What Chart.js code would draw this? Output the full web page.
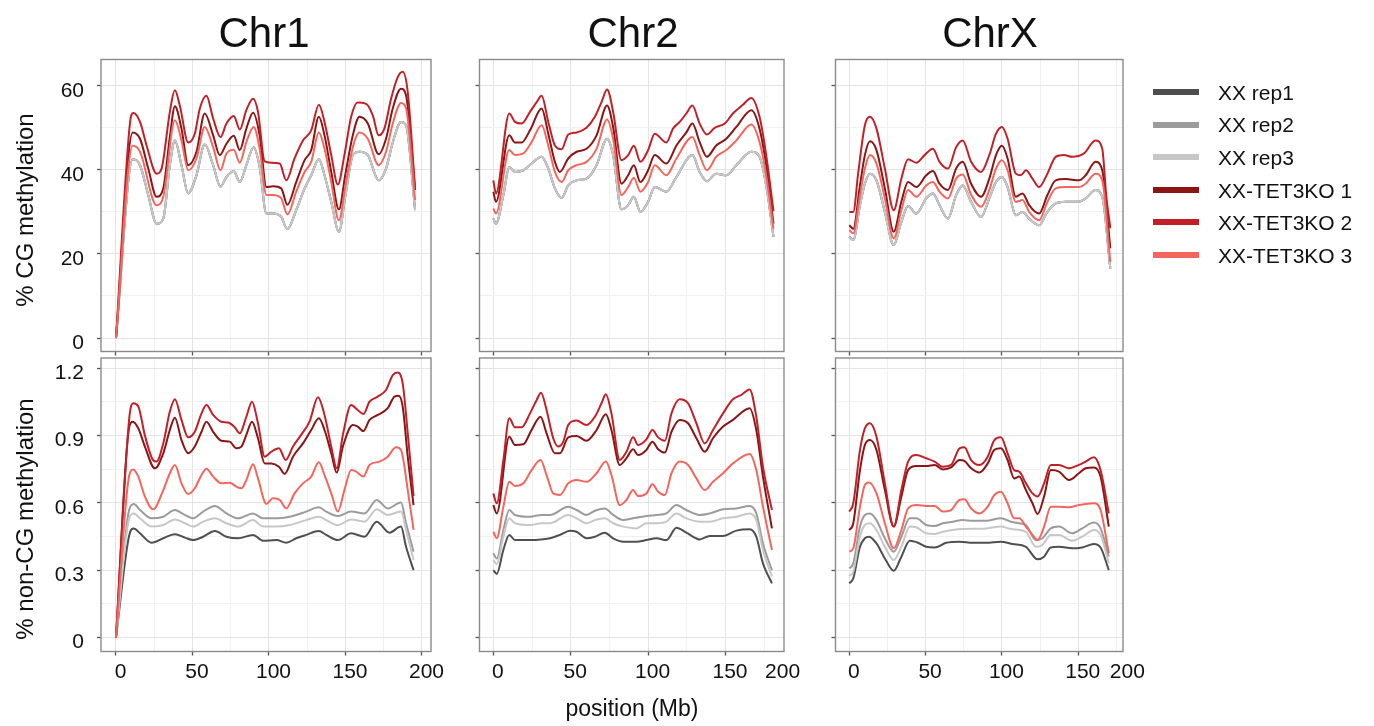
<!DOCTYPE html>
<html><head><meta charset="utf-8">
<script src="https://cdn.jsdelivr.net/npm/chart.js@4.4.1/dist/chart.umd.min.js"></script>
<style>
html,body{margin:0;padding:0;background:#fff;width:1374px;height:726px;overflow:hidden;font-family:"Liberation Sans",Arial,sans-serif;}
canvas{position:absolute;left:0;top:0;}
.t{position:absolute;color:#111;white-space:nowrap;line-height:1;}
.sw{position:absolute;left:1153px;width:46px;height:6px;}
</style></head><body>
<canvas id="c0" width="1374" height="726"></canvas>
<canvas id="c1" width="1374" height="726"></canvas>
<canvas id="c2" width="1374" height="726"></canvas>
<canvas id="c3" width="1374" height="726"></canvas>
<canvas id="c4" width="1374" height="726"></canvas>
<canvas id="c5" width="1374" height="726"></canvas>
<div id="txt"></div>
<script>
// ---------------- data ----------------
const chromosomes = ['Chr1','Chr2','ChrX'];
const seriesNames = ['XX rep1','XX rep2','XX rep3','XX-TET3KO 1','XX-TET3KO 2','XX-TET3KO 3'];
const seriesColors = ['#4f4f4f','#9b9b9b','#c7c7c7','#8b1414','#c22028','#f4665d'];

const xMajorTicks = [0,50,100,150,200];
const xMinorTicks = [25,75,125,175];
const cgYTicks = [0,20,40,60];
const cgYLabels = ['0','20','40','60'];
const cgYMinor = [10,30,50];
const ncgYTicks = [0,0.3,0.6,0.9,1.2];
const ncgYLabels = ['0','0.3','0.6','0.9','1.2'];
const ncgYMinor = [0.15,0.45,0.75,1.05];

// % CG methylation (XX reps overlap in the top row)
const cgChr1XX = [[0,0],[10.9,42.5],[15.7,41.1],[21.1,34],[26.5,27.2],[30.9,28.4],[35.2,41.1],[38.5,47],[42.8,41.1],[47.2,34.4],[52.6,38.7],[58,46],[63.5,41.1],[68.3,36],[72.2,38.3],[77,39.7],[80.9,37.1],[85.2,41.1],[90,45.4],[93.9,40.7],[98.3,29.6],[102.6,29.6],[108,28.8],[112,25.9],[117.8,30.4],[123.3,35.6],[127.6,38.7],[132.6,42.5],[136.3,38.7],[140.7,32.4],[145.7,25.3],[150,34],[154.8,43.5],[159.1,44.3],[164.6,43.5],[171.7,37.5],[176.5,40.3],[180.9,46.5],[186.3,51.4],[189.6,50.6],[195.5,30.4]];
const cgChr1KO1 = [[0,0],[10.9,48.9],[15.7,47.4],[21.1,40.3],[26.5,33.6],[30.9,35.6],[35.2,47.8],[38.5,55.1],[42.8,49.8],[47.2,41.1],[52.6,44.3],[58,53.4],[63.5,48.2],[67.8,43.5],[72.2,46.2],[77,48.1],[80.9,44.7],[85.2,49.8],[89.6,53.6],[93.9,48.2],[98.3,35.9],[102.6,36.1],[108,35.6],[112,31.7],[117.8,37.1],[123.3,42.3],[127.6,44.7],[132.6,52.6],[136.3,48.2],[140.7,39.5],[145.7,30.6],[150,39.1],[154.8,48.2],[159.1,52.6],[164.6,51],[171.7,43.7],[176.5,47.4],[180.9,54.6],[186.3,59.3],[189.6,57.7],[195.5,35.2]];
const cgChr1KO2 = [[0,0],[9.1,51],[11.3,53.5],[15.7,51.4],[20,45.8],[26.5,39.1],[29.8,40.3],[35.2,53.8],[38.5,58.9],[41.7,55.3],[47.2,46.5],[51.5,48.6],[54.8,54.6],[59.1,57.6],[63.5,52.2],[68.3,47.8],[72.2,51],[77,52.8],[80.9,49.6],[85.2,54.2],[89.6,56.9],[92.8,53.8],[97.2,42],[101.5,41.7],[107,41.5],[111.3,37.5],[116.7,42.7],[122.2,47],[127.6,49.4],[132.6,55.5],[136.3,51.4],[140.7,43.5],[145,36.5],[149.3,43.5],[153.7,52.6],[158,56],[163.5,55.7],[167.8,53],[171.7,48.2],[175.4,49.8],[179.8,56.9],[184.1,62],[187.4,63.3],[190.7,58.5],[195.5,35.5]];
const cgChr1KO3 = [[0,0],[10.9,45.7],[15.7,44.3],[26.5,31.6],[30.9,33.6],[38.5,51.8],[42.8,47],[47.2,39.9],[52.6,42.7],[58,50.2],[63.5,45.4],[68.3,39.9],[72.2,43.9],[77,44.8],[80.9,41.7],[85.2,46.6],[90,50.2],[93.9,45],[98.3,34],[102.6,34],[108,33.2],[112,29.4],[117.8,34.8],[123.3,39.5],[127.6,41.9],[132.6,48.9],[136.3,45],[140.7,37.1],[145.7,28],[150,36.3],[154.8,45.4],[159.1,48.9],[164.6,47.4],[171.7,41.1],[176.5,44.3],[180.9,51],[186.3,55.9],[189.6,54.6],[195.5,32.8]];

const cgChr2XX = [[0,28.4],[1.7,27.2],[6.5,34],[10.3,40.7],[14,39.5],[19.4,39.9],[24.7,41.5],[31.2,43.1],[35.5,40.3],[39.8,35.6],[44.1,33.3],[48.4,36.3],[53.8,37.5],[60.2,37.9],[66.7,41.1],[73.5,47.4],[77.4,43.5],[82.8,30.6],[87.1,31.6],[90.8,33.6],[95,30],[100,32.4],[104.3,35.9],[111.8,34.8],[118.3,38.3],[128.6,43.5],[133.3,39.5],[138,37.3],[144,39.1],[150.5,38.7],[157,41.1],[166.7,44.3],[172,43.1],[176.3,36.3],[181,24.1]];
const cgChr2KO1 = [[0,34.8],[1.7,32.4],[10.3,48.2],[14,46.5],[18.3,46.5],[23.7,49.4],[31.2,54.6],[35.5,48.6],[39.8,41.9],[43,39.5],[48.4,42.7],[53.8,44.3],[60.2,45],[66.7,48.2],[73.5,55.3],[77.4,50.2],[82.8,36.7],[87.1,38.7],[90.8,41.1],[95,37.1],[100,39.9],[104.3,43.5],[111.8,41.5],[118.3,45.8],[124.7,48.9],[128.6,51],[133.3,46.6],[138,43.1],[144,45.8],[150.5,47.4],[157,50.2],[166.7,54.2],[172,49.8],[176.3,41.1],[181,27.2]];
const cgChr2KO2 = [[0,37.5],[1.7,34.4],[10.3,53.4],[14,51.4],[18.3,51],[23.7,53.8],[28,56.1],[31.2,57.6],[35.5,51.4],[39.8,45.8],[44.1,44.9],[48.4,48.4],[53.8,48.9],[60.2,50],[65.6,52.6],[69.9,56.1],[73.5,59.1],[77.4,53.8],[82.8,42.3],[87.1,43.5],[90.8,45.7],[95,41.9],[100,44.7],[104.3,48.6],[111.8,46.5],[116.1,49.8],[120.4,51.4],[124.7,53.4],[128.6,55.3],[133.3,51],[138,48.4],[143,50],[149.5,51],[154.8,53.4],[161.3,55.5],[166.7,57.1],[172,52.6],[176.3,43.5],[181,30.2]];
const cgChr2KO3 = [[0,30.8],[1.7,29.6],[10.3,44.7],[14,43.5],[19.4,43.9],[24.7,46.6],[31.2,50.6],[35.5,45.8],[39.8,39.5],[44.1,37.1],[48.4,39.9],[53.8,41.1],[60.2,41.9],[66.7,45],[73.5,52],[77.4,47.4],[82.8,34],[87.1,35.9],[90.8,38.1],[95,34.8],[100,37.1],[104.3,41.1],[111.8,38.7],[118.3,42.7],[128.6,47.8],[133.3,43.5],[138,39.9],[144,43.1],[150.5,44.7],[157,47],[166.7,50.8],[172,46.6],[176.3,38.7],[181,26]];

const cgChrXXX = [[0,24.1],[2.6,23.3],[7,31.6],[10.2,36.7],[13.5,39.1],[17.8,37.5],[23.3,30],[29.1,22.1],[34.1,27.6],[38.5,31.4],[43.9,29.6],[50.4,33.2],[54.8,34.4],[59.1,31.6],[64.6,28.4],[70,34],[74.3,36.3],[79.8,32.4],[86.3,28.8],[91.7,33.2],[96.1,37.1],[100,38.3],[103.7,35.9],[109.1,29.2],[113.5,30],[117.8,28.4],[124.3,26.8],[129.8,30],[135.2,32],[141.7,32.4],[150.4,32.4],[154.8,33.2],[161.3,35.2],[165.7,33.6],[171,16.5]];
const cgChrXKO1 = [[0,26.8],[2.6,26],[7,36.3],[10.2,43.5],[13.5,46.8],[17.8,44.7],[23.3,35.6],[29.1,25.3],[34.1,32.4],[38.5,37.1],[43.9,35.9],[50.4,38.7],[54.8,39.7],[59.1,36.7],[64.6,35.2],[70,40.3],[74.3,41.9],[79.8,36.7],[86.3,33.6],[91.7,37.9],[96.1,43.5],[100,45.7],[103.7,42.7],[109.1,33.6],[113.5,34.4],[117.8,31.6],[124.3,29.6],[129.8,34],[135.2,37.5],[141.7,37.8],[150.4,37.5],[154.8,38.7],[161.3,41.9],[165.7,39.9],[171,21.3]];
const cgChrXKO2 = [[0,30],[2.6,30],[5.9,39.5],[10.2,50.6],[13.5,52.6],[17.8,49.8],[23.3,40.3],[29.1,30.4],[34.1,37.9],[38.5,42.5],[43.9,41.7],[49.3,43.5],[54.8,45],[59.1,41.9],[64.6,40.3],[70,45.4],[74.3,47],[79.8,41.9],[86.3,39.5],[91.7,43.5],[96.1,48.6],[100,50.2],[103.7,47.4],[109.1,39.1],[112.4,38.7],[115.7,39.9],[120,37.9],[124.3,35.9],[129.8,39.1],[135.2,43.1],[140.7,43.5],[146,43.1],[153.7,43.9],[161.3,47],[165.7,45],[168.3,34],[171,26.1]];
const cgChrXKO3 = [[0,25.7],[2.6,24.9],[7,34],[10.2,40.3],[13.5,43.5],[17.8,41.5],[23.3,33.2],[29.1,23.7],[34.1,30.4],[38.5,35.2],[43.9,33.6],[50.4,36.3],[54.8,37.1],[59.1,34.8],[64.6,33.2],[70,37.9],[74.3,38.9],[79.8,34.1],[86.3,31.2],[91.7,35.2],[96.1,40.3],[100,42.3],[103.7,39.9],[109.1,32.4],[113.5,32.8],[117.8,30],[124.3,28],[129.8,32.4],[135.2,35.6],[141.7,35.9],[150.4,35.9],[154.8,36.7],[161.3,39.1],[165.7,37.5],[171,18.1]];

// % non-CG methylation
const ncgChr1Rep1 = [[0,0],[8.7,0.457],[11.7,0.486],[15.7,0.464],[23.3,0.422],[30.9,0.442],[38.5,0.46],[45,0.445],[50.4,0.434],[57,0.449],[64.6,0.474],[72.2,0.449],[79.8,0.442],[89.6,0.457],[96.1,0.431],[104.8,0.434],[111.3,0.422],[117.8,0.442],[124.3,0.457],[132.6,0.474],[137.4,0.457],[145,0.434],[153.7,0.464],[162.4,0.449],[170.4,0.516],[178.7,0.467],[186.3,0.494],[189.6,0.404],[194.5,0.3]];
const ncgChr1Rep2 = [[0,0],[8.7,0.571],[11.7,0.595],[15.7,0.568],[23.3,0.531],[30.9,0.538],[38.5,0.568],[45,0.546],[50.4,0.531],[57,0.561],[64.6,0.586],[72.2,0.553],[79.8,0.531],[89.6,0.553],[96.1,0.531],[104.8,0.531],[113.5,0.538],[124.3,0.561],[132.6,0.58],[137.4,0.561],[145,0.541],[153.7,0.561],[162.4,0.553],[170.4,0.613],[177.6,0.575],[186.3,0.601],[189.6,0.509],[194.5,0.382]];
const ncgChr1Rep3 = [[0,0],[8.7,0.531],[11.7,0.553],[15.7,0.531],[23.3,0.494],[30.9,0.501],[38.5,0.526],[45,0.509],[50.4,0.494],[57,0.516],[64.6,0.531],[72.2,0.509],[79.8,0.494],[89.6,0.523],[96.1,0.494],[104.8,0.494],[113.5,0.501],[124.3,0.523],[132.6,0.538],[137.4,0.523],[145,0.501],[153.7,0.526],[162.4,0.516],[170.4,0.571],[177.6,0.546],[186.3,0.561],[189.6,0.479],[194.5,0.345]];
const ncgChr1KO1 = [[0,0],[8.7,0.94],[10.9,0.962],[14.6,0.932],[18.9,0.851],[25.4,0.754],[30.9,0.821],[35.2,0.925],[38.5,0.98],[42.8,0.88],[47.2,0.821],[51.5,0.851],[55.9,0.917],[59.1,0.962],[63.5,0.917],[68.9,0.877],[74.3,0.873],[78.7,0.843],[82,0.851],[85.2,0.903],[88.9,0.962],[92.8,0.888],[97.2,0.776],[101.5,0.776],[106.5,0.761],[110.2,0.729],[115.7,0.806],[122.2,0.865],[127.6,0.925],[132.6,0.977],[136.3,0.925],[140.7,0.821],[144.3,0.735],[148.3,0.851],[154.8,0.947],[158,0.94],[161.7,0.92],[165.7,0.97],[171.1,0.992],[177.6,1.022],[182,1.074],[184.8,1.078],[187.4,1.029],[190.7,0.806],[194.5,0.59]];
const ncgChr1KO2 = [[0,0],[8.7,0.98],[11.3,1.044],[14.6,1.03],[18.9,0.9],[24.3,0.79],[26.5,0.784],[30.9,0.865],[35.2,1.007],[38.5,1.062],[42.8,0.97],[47.2,0.892],[51.5,0.917],[55.9,0.999],[59.1,1.036],[63.5,0.992],[68.9,0.962],[73.3,0.958],[77.6,0.937],[80.9,0.91],[85.2,0.984],[88.9,1.051],[92.8,0.955],[97.2,0.806],[101.5,0.828],[106.5,0.843],[110.9,0.791],[115.7,0.851],[121,0.903],[126.5,0.962],[132,1.071],[136.3,0.992],[140.7,0.851],[144.3,0.754],[148.3,0.903],[153.7,1.036],[158,1.014],[161.7,0.996],[165.7,1.051],[171.1,1.074],[176.5,1.103],[180.9,1.17],[184.1,1.181],[187.4,1.133],[190.7,0.91],[194.5,0.63]];
const ncgChr1KO3 = [[0,0],[8.7,0.724],[11.3,0.749],[14.6,0.717],[18.9,0.628],[24.3,0.571],[30.9,0.657],[35.2,0.732],[38.5,0.769],[42.8,0.687],[47.2,0.639],[51.5,0.665],[55.9,0.724],[59.1,0.752],[63.5,0.717],[68.9,0.687],[74.3,0.69],[78.7,0.672],[82,0.665],[85.2,0.702],[89.6,0.772],[92.8,0.709],[98.3,0.595],[102.6,0.62],[107,0.613],[111.3,0.575],[116.7,0.642],[122.2,0.687],[127.6,0.717],[132.6,0.781],[136.3,0.724],[140.7,0.642],[145,0.561],[149.3,0.657],[153.7,0.746],[157,0.739],[161.7,0.717],[165.7,0.769],[172.2,0.784],[177.6,0.806],[183,0.848],[186.3,0.836],[190.7,0.657],[194.5,0.479]];

const ncgChr2Rep1 = [[0,0.3],[2.2,0.283],[6.5,0.39],[10.3,0.457],[14,0.434],[23.7,0.434],[36.6,0.442],[43,0.457],[49.5,0.476],[53.8,0.471],[60.2,0.442],[65.6,0.449],[72,0.467],[77.4,0.442],[83.9,0.427],[92.5,0.427],[98.9,0.434],[105.4,0.442],[111.8,0.434],[118.3,0.489],[124.7,0.467],[133.3,0.437],[139.8,0.452],[148.4,0.452],[157,0.476],[165.6,0.482],[169.9,0.449],[174.2,0.33],[180,0.241]];
const ncgChr2Rep2 = [[0,0.375],[2.2,0.352],[6.5,0.479],[10.3,0.568],[14,0.546],[23.7,0.538],[31.2,0.546],[36.6,0.546],[48.4,0.583],[53.8,0.568],[60.2,0.546],[65.6,0.565],[72,0.575],[77.4,0.546],[83.9,0.523],[90.3,0.531],[98.9,0.541],[105.4,0.546],[111.8,0.553],[118.3,0.59],[124.7,0.568],[133.3,0.546],[139.8,0.553],[148.4,0.571],[157,0.575],[165.6,0.586],[169.9,0.553],[174.2,0.419],[180,0.3]];
const ncgChr2Rep3 = [[0,0.345],[2.2,0.327],[6.5,0.449],[10.3,0.531],[14,0.509],[23.7,0.501],[31.2,0.509],[36.6,0.509],[48.4,0.546],[53.8,0.531],[60.2,0.509],[65.6,0.523],[72,0.531],[77.4,0.509],[83.9,0.494],[92.5,0.486],[98.9,0.509],[105.4,0.509],[111.8,0.516],[118.3,0.553],[124.7,0.531],[133.3,0.516],[139.8,0.516],[148.4,0.531],[157,0.538],[165.6,0.553],[169.9,0.523],[174.2,0.39],[180,0.271]];
const ncgChr2KO1 = [[0,0.59],[2.2,0.553],[10.3,0.895],[14,0.858],[19.4,0.861],[24.7,0.925],[30.5,0.984],[34.4,0.91],[39.8,0.821],[43,0.821],[48.4,0.892],[53.8,0.898],[60.2,0.877],[66.7,0.925],[72.7,0.995],[76.3,0.925],[81.7,0.769],[86,0.799],[90.3,0.839],[93.5,0.813],[98.9,0.836],[102.8,0.873],[106.5,0.839],[110.8,0.824],[115.1,0.917],[120.4,0.97],[125.8,0.955],[131.2,0.888],[136.6,0.828],[141.9,0.888],[148.4,0.94],[154.8,0.97],[165.6,1.022],[169.9,0.925],[174.2,0.717],[180,0.486]];
const ncgChr2KO2 = [[0,0.642],[2.2,0.598],[6.5,0.791],[10.3,0.977],[14,0.937],[18.3,0.937],[23.7,0.999],[28,1.059],[30.8,1.091],[34.4,1.014],[38.7,0.888],[41.9,0.851],[45.2,0.873],[48.4,0.947],[53.8,0.967],[60.2,0.947],[65.6,0.984],[69.9,1.044],[72.7,1.084],[76.3,0.999],[81.7,0.791],[86,0.828],[90.3,0.892],[93.5,0.858],[98.9,0.883],[102.8,0.925],[106.5,0.892],[110.8,0.877],[115.1,0.999],[120.4,1.062],[125.8,1.044],[131.2,0.955],[136.6,0.865],[141.9,0.925],[148.4,0.999],[154.8,1.062],[160.2,1.081],[165.6,1.106],[169.9,0.984],[174.2,0.761],[180,0.568]];
const ncgChr2KO3 = [[0,0.471],[2.2,0.442],[6.5,0.583],[10.3,0.694],[14,0.675],[19.4,0.687],[24.7,0.746],[30.5,0.791],[34.4,0.724],[38.7,0.642],[43,0.635],[48.4,0.687],[53.8,0.702],[60.2,0.694],[66.7,0.732],[72.7,0.784],[76.3,0.724],[81.7,0.59],[86,0.613],[90.3,0.657],[93.5,0.63],[98.9,0.642],[102.8,0.683],[106.5,0.65],[110.8,0.635],[115.1,0.732],[120.4,0.784],[125.8,0.769],[131.2,0.709],[136.6,0.657],[141.9,0.694],[148.4,0.732],[154.8,0.776],[165.6,0.818],[169.9,0.746],[174.2,0.583],[180,0.39]];

const ncgChrXRep1 = [[0,0.241],[2.6,0.263],[7,0.404],[10.2,0.442],[13,0.449],[17.8,0.419],[23.3,0.352],[29.1,0.297],[34.1,0.36],[39.6,0.431],[45,0.422],[50.4,0.404],[55.9,0.401],[63.5,0.422],[72.2,0.427],[80.9,0.422],[89.6,0.422],[99.3,0.427],[107,0.416],[115.7,0.404],[123.3,0.348],[127.6,0.36],[132,0.401],[137.4,0.404],[146,0.397],[152.6,0.401],[160.2,0.416],[164.6,0.401],[170,0.3]];
const ncgChrXRep2 = [[0,0.308],[2.6,0.33],[7,0.494],[10.2,0.546],[13.5,0.553],[17.8,0.523],[23.3,0.442],[29.1,0.382],[34.1,0.449],[39.6,0.531],[43.9,0.531],[50.4,0.501],[55.9,0.497],[61.3,0.509],[67.8,0.516],[74.3,0.523],[80.9,0.52],[89.6,0.52],[99.3,0.531],[105.9,0.516],[111.3,0.509],[115.7,0.501],[122.2,0.434],[126.5,0.442],[132,0.486],[137.4,0.494],[146,0.464],[152.6,0.486],[160.2,0.512],[164.6,0.486],[170,0.36]];
const ncgChrXRep3 = [[0,0.274],[2.6,0.293],[7,0.449],[10.2,0.501],[13.5,0.509],[17.8,0.479],[23.3,0.404],[29.1,0.345],[34.1,0.404],[39.6,0.494],[43.9,0.491],[50.4,0.464],[55.9,0.461],[61.3,0.471],[67.8,0.479],[74.3,0.483],[89.6,0.486],[99.3,0.494],[105.9,0.483],[115.7,0.471],[122.2,0.404],[126.5,0.412],[132,0.457],[137.4,0.457],[146,0.431],[152.6,0.449],[160.2,0.479],[164.6,0.457],[170,0.33]];
const ncgChrXKO1 = [[0,0.479],[2.6,0.509],[7,0.746],[10.2,0.858],[13.5,0.88],[17.8,0.836],[23.3,0.657],[29.1,0.494],[34.1,0.627],[38.5,0.746],[43.9,0.764],[50.4,0.764],[55.9,0.769],[61.3,0.749],[66.7,0.758],[72.2,0.791],[75.4,0.787],[79.8,0.754],[85.2,0.735],[90.7,0.776],[95,0.836],[99.3,0.843],[103.7,0.791],[108,0.709],[111.3,0.717],[115.7,0.657],[120,0.598],[123.3,0.55],[127.6,0.628],[132,0.746],[137.4,0.739],[143.9,0.702],[150.4,0.732],[154.8,0.754],[160.2,0.758],[164.6,0.717],[170,0.494]];
const ncgChrXKO2 = [[0,0.561],[2.6,0.598],[7,0.836],[10.2,0.932],[13.5,0.955],[17.8,0.895],[23.3,0.687],[29.1,0.494],[34.1,0.657],[38.5,0.784],[43.9,0.813],[50.4,0.799],[55.9,0.784],[61.3,0.761],[66.7,0.769],[72.2,0.843],[75.4,0.848],[79.8,0.791],[85.2,0.769],[90.7,0.806],[95,0.88],[99.3,0.892],[103.7,0.821],[108,0.746],[111.3,0.739],[115.7,0.687],[120,0.642],[123.3,0.628],[127.6,0.687],[132,0.769],[137.4,0.769],[143.9,0.754],[150.4,0.769],[154.8,0.784],[160.2,0.803],[164.6,0.746],[170,0.553]];
const ncgChrXKO3 = [[0,0.382],[2.6,0.397],[7,0.583],[10.2,0.68],[13,0.691],[17.8,0.642],[23.3,0.509],[29.1,0.397],[34.1,0.479],[38.5,0.575],[43.9,0.59],[50.4,0.586],[55.9,0.586],[61.3,0.561],[66.7,0.568],[72.2,0.613],[75.4,0.616],[79.8,0.575],[85.2,0.553],[90.7,0.583],[95,0.635],[99.3,0.65],[103.7,0.598],[108,0.531],[111.3,0.531],[115.7,0.494],[120,0.457],[123.3,0.434],[127.6,0.494],[132,0.583],[137.4,0.583],[143.9,0.58],[150.4,0.59],[154.8,0.595],[160.2,0.598],[164.6,0.568],[170,0.375]];

// ---------------- layout ----------------
const FONT = '"Liberation Sans", Arial, sans-serif';
const W = 1374, H = 726;
const colBoxes = [[101,431],[479.5,784],[835.5,1123]];
const rowBoxes = [[59.5,351.5],[358,651.5]];
const xRanges = [[-9.8,205.9],[-8.93,187.8],[-9.04,179.3]];
const xLastTick = [200, 184, 179.2]; // position of the "200" label on each column
const yRanges = [[-3.2,66.24],[-0.063,1.246]];

const panelData = [
  [[cgChr1XX,cgChr1XX,cgChr1XX,cgChr1KO1,cgChr1KO2,cgChr1KO3],
   [cgChr2XX,cgChr2XX,cgChr2XX,cgChr2KO1,cgChr2KO2,cgChr2KO3],
   [cgChrXXX,cgChrXXX,cgChrXXX,cgChrXKO1,cgChrXKO2,cgChrXKO3]],
  [[ncgChr1Rep1,ncgChr1Rep2,ncgChr1Rep3,ncgChr1KO1,ncgChr1KO2,ncgChr1KO3],
   [ncgChr2Rep1,ncgChr2Rep2,ncgChr2Rep3,ncgChr2KO1,ncgChr2KO2,ncgChr2KO3],
   [ncgChrXRep1,ncgChrXRep2,ncgChrXRep3,ncgChrXKO1,ncgChrXKO2,ncgChrXKO3]]
];

const framePlugin = {
  id:'frame',
  afterDatasetsDraw(chart){
    const a = chart.chartArea, ctx = chart.ctx;
    ctx.save();
    ctx.strokeStyle = '#8a8a8a';
    ctx.lineWidth = 1.4;
    ctx.strokeRect(a.left, a.top, a.right - a.left, a.bottom - a.top);
    ctx.restore();
  }
};

const Y_W = 50, X_H_LABELS = 40, X_H_NOLABELS = 6;

function tickColor(ctx){ const t = ctx.tick; if(!t) return 'transparent'; return t.m === 1 ? '#555' : 'transparent'; }
function gridColor(ctx){ const t = ctx.tick; if(!t) return 'transparent'; return t.m === 1 ? '#e4e4e4' : (t.m === 0 ? '#f1f1f1' : 'transparent'); }

let idx = 0;
for (let r = 0; r < 2; r++) {
  for (let c = 0; c < 3; c++) {
    const [left, right] = colBoxes[c];
    const [top, bottom] = rowBoxes[r];
    const showX = r === 1, showY = c === 0;
    const xh = showX ? X_H_LABELS : X_H_NOLABELS;
    const yMaj = r === 0 ? cgYTicks : ncgYTicks;
    const yLab = r === 0 ? cgYLabels : ncgYLabels;
    const yMin = r === 0 ? cgYMinor : ncgYMinor;
    const xr = xRanges[c];
    const lastTick = xLastTick[c];

    const datasets = panelData[r][c].map((arr, i) => ({
      label: seriesNames[i],
      data: arr.map(p => ({x: p[0], y: p[1]})),
      borderColor: seriesColors[i],
      borderWidth: 2,
      pointRadius: 0,
      fill: false,
      cubicInterpolationMode: 'monotone',
      order: 6 - i
    }));

    new Chart(document.getElementById('c' + idx), {
      type: 'line',
      data: { datasets },
      plugins: [framePlugin],
      options: {
        responsive: false, animation: false, devicePixelRatio: 1,
        events: [],
        layout: { padding: { left: left - Y_W, right: W - right, top: top, bottom: H - bottom - xh } },
        plugins: { legend: { display: false }, tooltip: { enabled: false } },
        scales: {
          x: {
            type: 'linear', min: xr[0], max: xr[1],
            afterBuildTicks: s => {
              const t = [];
              xMajorTicks.forEach(v => { if (v <= xr[1] && v !== lastTick) t.push({value: v, m: 1, lab: String(v)}); });
              if (lastTick === 200) t.push({value: 200, m: 1, lab: '200'});
              else t.push({value: lastTick, m: 2, lab: '200'});
              xMinorTicks.forEach(v => { if (v <= xr[1]) t.push({value: v, m: 0, lab: ''}); });
              t.sort((a, b) => a.value - b.value);
              s.ticks = t;
            },
            afterFit: s => { s.height = xh; },
            ticks: {
              autoSkip: false, maxRotation: 0, minRotation: 0, padding: 4, labelOffset: 4.5,
              color: '#111', font: { family: FONT, size: 21 },
              callback: (v, i, ticks) => showX ? (ticks[i].lab || '') : ''
            },
            grid: { color: gridColor, lineWidth: 1, drawTicks: true, tickLength: 4, tickColor: tickColor, tickWidth: 1.3 },
            border: { display: false }
          },
          y: {
            type: 'linear', min: yRanges[r][0], max: yRanges[r][1],
            afterBuildTicks: s => {
              const t = [];
              yMaj.forEach((v, k) => t.push({value: v, m: 1, lab: yLab[k]}));
              yMin.forEach(v => t.push({value: v, m: 0, lab: ''}));
              t.sort((a, b) => a.value - b.value);
              s.ticks = t;
            },
            afterFit: s => { s.width = Y_W; },
            ticks: {
              autoSkip: false, padding: 13, labelOffset: 5,
              color: '#111', font: { family: FONT, size: 21 },
              callback: (v, i, ticks) => showY ? (ticks[i].lab || '') : ''
            },
            grid: { color: gridColor, lineWidth: 1, drawTicks: true, tickLength: 4, tickColor: tickColor, tickWidth: 1.3 },
            border: { display: false }
          }
        }
      }
    });
    idx++;
  }
}

// ---------------- text ----------------
const txt = document.getElementById('txt');
function addText(s, size, cx, baseline){
  const d = document.createElement('div');
  d.className = 't';
  d.textContent = s;
  d.style.fontSize = size + 'px';
  d.style.top = (baseline - 0.8465 * size) + 'px';
  d.style.left = cx + 'px';
  d.style.transform = 'translateX(-50%)';
  txt.appendChild(d);
  return d;
}
const titleCenters = [264, 633, 990];
chromosomes.forEach((n, i) => addText(n, 42, titleCenters[i], 48));
addText('position (Mb)', 23, 632, 716);

function addVText(s, size, cx, cy){
  const d = document.createElement('div');
  d.className = 't';
  d.textContent = s;
  d.style.fontSize = size + 'px';
  d.style.left = cx + 'px';
  d.style.top = cy + 'px';
  d.style.transform = 'translate(-50%,-50%) rotate(-90deg)';
  txt.appendChild(d);
}
addVText('% CG methylation', 24, 25, 210);
addVText('% non-CG methylation', 24, 25, 519);

const legendRows = [92, 124.6, 157.2, 189.8, 222.4, 255];
seriesNames.forEach((n, i) => {
  const sw = document.createElement('div');
  sw.className = 'sw';
  sw.style.top = (legendRows[i] - 3) + 'px';
  sw.style.background = seriesColors[i];
  txt.appendChild(sw);
  const d = document.createElement('div');
  d.className = 't';
  d.textContent = n;
  d.style.fontSize = '21px';
  d.style.left = '1218px';
  d.style.top = (legendRows[i] + 7.5 - 0.8465 * 21) + 'px';
  txt.appendChild(d);
});
</script>
</body></html>
